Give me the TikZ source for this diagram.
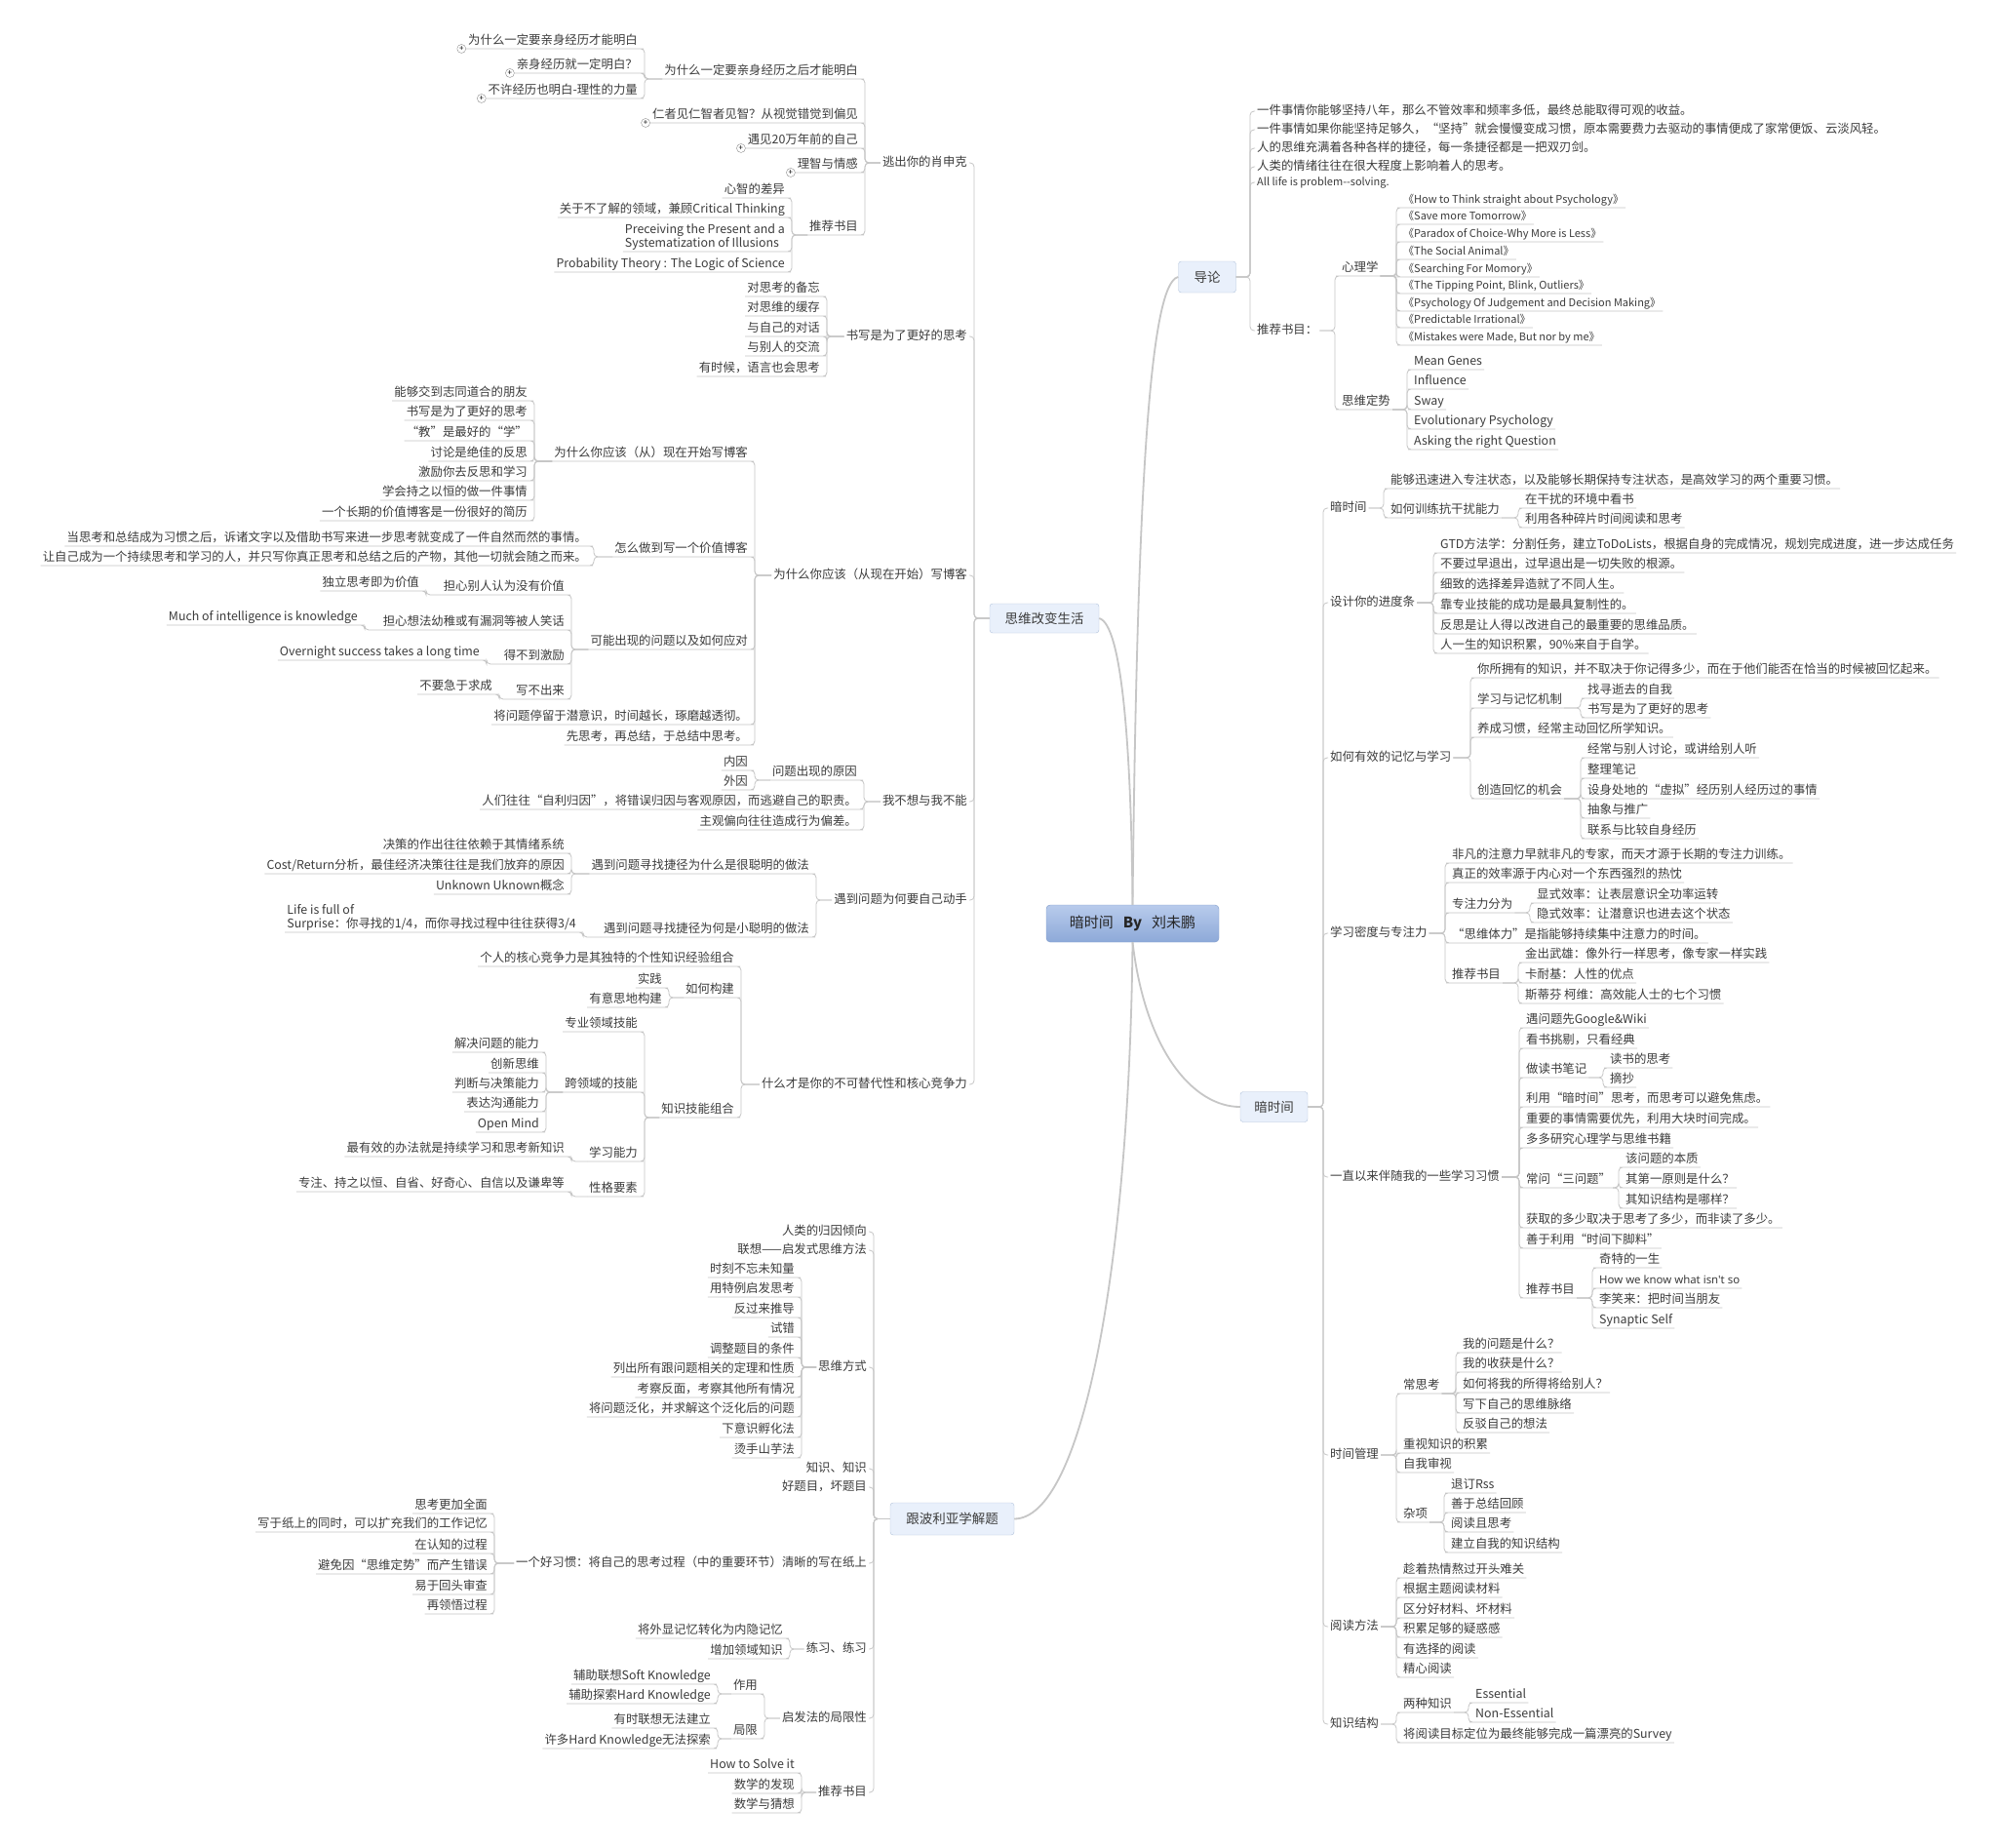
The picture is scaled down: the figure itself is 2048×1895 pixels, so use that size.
\documentclass[tikz,border=0pt]{standalone}
\usepackage{fontspec}
\setmainfont{Noto Sans CJK SC}
\newfontfamily\latinfont{Noto Sans}
\newcommand{\mapfont}{\fontsize{12.4}{14}\selectfont}
\newcommand{\bookfont}{\fontsize{11}{13}\selectfont}
\definecolor{txt}{HTML}{3C3C3C}
\definecolor{lnc}{HTML}{C6C6C6}
\definecolor{boxfill}{HTML}{E9F0FB}
\definecolor{boxline}{HTML}{B3C4DC}
\definecolor{roottop}{HTML}{B8CBEC}
\definecolor{rootbot}{HTML}{8DA9D8}
\definecolor{rootline}{HTML}{7F9BCA}

\begin{document}
\begin{tikzpicture}[x=1pt, y=-1pt, every node/.style={font=\mapfont, text=txt},
  lf/.style={anchor=east, inner xsep=2pt, inner ysep=1.5pt, text height=10pt, text depth=2.5pt},
  rt/.style={lf, anchor=west},
  bk/.style={rt, font=\bookfont},
  twoline/.style={align=left, text height=24pt, text depth=2.5pt},
  ln/.style={draw=lnc, line width=0.8pt, rounded corners=4pt},
  trunk/.style={draw=lnc, line width=1.8pt},
  topicbox/.style={draw=boxline, fill=boxfill, rounded corners=3pt, inner sep=0pt, font=\fontsize{13.5}{15}\selectfont},
  rootbox/.style={draw=rootline, top color=roottop, bottom color=rootbot, rounded corners=4pt, minimum width=177pt, minimum height=38pt, font=\fontsize{15}{17}\selectfont, text=black!85},
  expander/.style={circle, draw=black!45, fill=white, inner sep=0pt, minimum size=9pt, anchor=east, font=\fontsize{8}{8}\selectfont, text=black}]
\useasboundingbox (0,0) rectangle (2048,1895);
\fill[white] (0,0) rectangle (2048,1895);

\node[rootbox] (root) at (1161.5,947) {暗时间\hspace{10pt}\textbf{By}\hspace{10pt}刘未鹏};
\node[topicbox, minimum width=112pt, minimum height=30pt] (sw) at (1071,634) {思维改变生活};
\node[topicbox, minimum width=59pt, minimum height=32pt] (dl) at (1238,284) {导论};
\node[topicbox, minimum width=69pt, minimum height=31pt] (ash) at (1306.5,1135) {暗时间};
\node[topicbox, minimum width=127pt, minimum height=33pt] (bl) at (976.5,1557.5) {跟波利亚学解题};
\draw[trunk] (root.north) .. controls (1166,520) and (1178,290) .. (dl.west);
\draw[trunk] (root.north) .. controls (1160,760) and (1150,640) .. (sw.east);
\draw[trunk] (root.south) .. controls (1175,1080) and (1225,1135) .. (ash.west);
\draw[trunk] (root.south) .. controls (1158,1300) and (1110,1557) .. (bl.east);

\node[lf] (s1) at (994,167) {逃出你的肖申克};
\node[lf] (s2) at (994,345) {书写是为了更好的思考};
\node[lf] (s3) at (994,590) {为什么你应该（从现在开始）写博客};
\node[lf] (s4) at (994,822) {我不想与我不能};
\node[lf] (s5) at (994,923) {遇到问题为何要自己动手};
\node[lf] (s6) at (994,1112) {什么才是你的不可替代性和核心竞争力};
\foreach \ch in {s1,s2,s3,s4,s5,s6} \draw[ln] (\ch.east) -- ++(5,0) |- (sw.west);

\node[lf] (s1a) at (882,73) {为什么一定要亲身经历之后才能明白};
\node[lf] (s1b) at (882,118) {仁者见仁智者见智？从视觉错觉到偏见};
\node[lf] (s1c) at (882,144) {遇见20万年前的自己};
\node[lf] (s1d) at (882,169) {理智与情感};
\node[lf] (s1e) at (882,233) {推荐书目};
\node[lf] (s1a1) at (656,42) {为什么一定要亲身经历才能明白};
\node[lf] (s1a2) at (656,67) {亲身经历就一定明白？};
\node[lf] (s1a3) at (656,93) {不许经历也明白-理性的力量};
\node[lf] (s1e1) at (807,195) {心智的差异};
\node[lf] (s1e2) at (807,215) {关于不了解的领域，兼顾Critical Thinking};
\node[lf, twoline] (s1e3) at (807,243) {Preceiving the Present and a\\Systematization of Illusions};
\node[lf] (s1e4) at (807,271) {Probability Theory : The Logic of Science};
\foreach \ch in {s1a,s1b,s1c,s1d,s1e} \draw[ln] (\ch.south west) -- (\ch.south east) -- ++(5,0) |- (s1.west);
\foreach \ch in {s1a1,s1a2,s1a3} \draw[ln] (\ch.south west) -- (\ch.south east) -- ++(5,0) |- (s1a.south west);
\foreach \ch in {s1e1,s1e2,s1e3,s1e4} \draw[ln] (\ch.south west) -- (\ch.south east) -- ++(5,0) |- (s1e.south west);
\node[expander] (x1) at (s1a1.south west) {+};
\node[expander] (x2) at (s1a2.south west) {+};
\node[expander] (x3) at (s1a3.south west) {+};
\node[expander] (x4) at (s1b.south west) {+};
\node[expander] (x5) at (s1c.south west) {+};
\node[expander] (x6) at (s1d.south west) {+};

\node[lf] (s2a) at (843,296) {对思考的备忘};
\node[lf] (s2b) at (843,316) {对思维的缓存};
\node[lf] (s2c) at (843,337) {与自己的对话};
\node[lf] (s2d) at (843,357) {与别人的交流};
\node[lf] (s2e) at (843,378) {有时候，语言也会思考};
\foreach \ch in {s2a,s2b,s2c,s2d,s2e} \draw[ln] (\ch.south west) -- (\ch.south east) -- ++(5,0) |- (s2.west);

\node[lf] (s3a) at (769,465) {为什么你应该（从）现在开始写博客};
\node[lf] (s3b) at (769,563) {怎么做到写一个价值博客};
\node[lf] (s3c) at (769,658) {可能出现的问题以及如何应对};
\node[lf] (s3d) at (769,735) {将问题停留于潜意识，时间越长，琢磨越透彻。};
\node[lf] (s3e) at (769,756) {先思考，再总结，于总结中思考。};
\node[lf] (s3a1) at (543,403) {能够交到志同道合的朋友};
\node[lf] (s3a2) at (543,423) {书写是为了更好的思考};
\node[lf] (s3a3) at (543,444) {“教”是最好的“学”};
\node[lf] (s3a4) at (543,465) {讨论是绝佳的反思};
\node[lf] (s3a5) at (543,485) {激励你去反思和学习};
\node[lf] (s3a6) at (543,505) {学会持之以恒的做一件事情};
\node[lf] (s3a7) at (543,526) {一个长期的价值博客是一份很好的简历};
\node[lf] (s3b1) at (604,552) {当思考和总结成为习惯之后，诉诸文字以及借助书写来进一步思考就变成了一件自然而然的事情。};
\node[lf] (s3b2) at (604,572) {让自己成为一个持续思考和学习的人，并只写你真正思考和总结之后的产物，其他一切就会随之而来。};
\node[lf] (s3c1) at (581,602) {担心别人认为没有价值};
\node[lf] (s3c2) at (581,638) {担心想法幼稚或有漏洞等被人笑话};
\node[lf] (s3c3) at (581,673) {得不到激励};
\node[lf] (s3c4) at (581,709) {写不出来};
\node[lf] (s3c1a) at (432,598) {独立思考即为价值};
\node[lf] (s3c2a) at (369,633) {Much of intelligence is knowledge};
\node[lf] (s3c3a) at (494,669) {Overnight success takes a long time};
\node[lf] (s3c4a) at (507,704) {不要急于求成};
\foreach \ch in {s3a,s3b,s3c,s3d,s3e} \draw[ln] (\ch.south west) -- (\ch.south east) -- ++(5,0) |- (s3.west);
\foreach \ch in {s3a1,s3a2,s3a3,s3a4,s3a5,s3a6,s3a7} \draw[ln] (\ch.south west) -- (\ch.south east) -- ++(5,0) |- (s3a.south west);
\foreach \ch in {s3b1,s3b2} \draw[ln] (\ch.south west) -- (\ch.south east) -- ++(5,0) |- (s3b.south west);
\foreach \ch in {s3c1,s3c2,s3c3,s3c4} \draw[ln] (\ch.south west) -- (\ch.south east) -- ++(5,0) |- (s3c.south west);
\foreach \ch/\pa in {s3c1a/s3c1,s3c2a/s3c2,s3c3a/s3c3,s3c4a/s3c4} \draw[ln] (\ch.south west) -- (\ch.south east) -- ++(5,0) |- (\pa.south west);

\node[lf] (s4a) at (881,792) {问题出现的原因};
\node[lf] (s4b) at (881,822) {人们往往“自利归因”，将错误归因与客观原因，而逃避自己的职责。};
\node[lf] (s4c) at (881,843) {主观偏向往往造成行为偏差。};
\node[lf] (s4a1) at (769,782) {内因};
\node[lf] (s4a2) at (769,802) {外因};
\foreach \ch in {s4a,s4b,s4c} \draw[ln] (\ch.south west) -- (\ch.south east) -- ++(5,0) |- (s4.west);
\foreach \ch in {s4a1,s4a2} \draw[ln] (\ch.south west) -- (\ch.south east) -- ++(5,0) |- (s4a.south west);

\node[lf] (s5a) at (832,888) {遇到问题寻找捷径为什么是很聪明的做法};
\node[lf] (s5b) at (832,953) {遇到问题寻找捷径为何是小聪明的做法};
\node[lf] (s5a1) at (581,867) {决策的作出往往依赖于其情绪系统};
\node[lf] (s5a2) at (581,888) {Cost/Return分析，最佳经济决策往往是我们放弃的原因};
\node[lf] (s5a3) at (581,909) {Unknown Uknown概念};
\node[lf, twoline] (s5b1) at (593,941) {Life is full of\\Surprise：你寻找的1/4，而你寻找过程中往往获得3/4};
\foreach \ch in {s5a,s5b} \draw[ln] (\ch.south west) -- (\ch.south east) -- ++(5,0) |- (s5.west);
\foreach \ch in {s5a1,s5a2,s5a3} \draw[ln] (\ch.south west) -- (\ch.south east) -- ++(5,0) |- (s5a.south west);
\draw[ln] (s5b1.south west) -- (s5b1.south east) -- ++(5,0) |- (s5b.south west);

\node[lf] (s6a) at (755,983) {个人的核心竞争力是其独特的个性知识经验组合};
\node[lf] (s6b) at (755,1015) {如何构建};
\node[lf] (s6c) at (755,1138) {知识技能组合};
\node[lf] (s6b1) at (681,1005) {实践};
\node[lf] (s6b2) at (681,1025) {有意思地构建};
\node[lf] (s6c1) at (656,1050) {专业领域技能};
\node[lf] (s6c2) at (656,1112) {跨领域的技能};
\node[lf] (s6c3) at (656,1183) {学习能力};
\node[lf] (s6c4) at (656,1219) {性格要素};
\node[lf] (s6c2a) at (555,1071) {解决问题的能力};
\node[lf] (s6c2b) at (555,1092) {创新思维};
\node[lf] (s6c2c) at (555,1112) {判断与决策能力};
\node[lf] (s6c2d) at (555,1132) {表达沟通能力};
\node[lf] (s6c2e) at (555,1153) {Open Mind};
\node[lf] (s6c3a) at (581,1178) {最有效的办法就是持续学习和思考新知识};
\node[lf] (s6c4a) at (581,1214) {专注、持之以恒、自省、好奇心、自信以及谦卑等};
\foreach \ch in {s6a,s6b,s6c} \draw[ln] (\ch.south west) -- (\ch.south east) -- ++(5,0) |- (s6.west);
\foreach \ch in {s6b1,s6b2} \draw[ln] (\ch.south west) -- (\ch.south east) -- ++(5,0) |- (s6b.south west);
\foreach \ch in {s6c1,s6c2,s6c3,s6c4} \draw[ln] (\ch.south west) -- (\ch.south east) -- ++(5,0) |- (s6c.south west);
\foreach \ch in {s6c2a,s6c2b,s6c2c,s6c2d,s6c2e} \draw[ln] (\ch.south west) -- (\ch.south east) -- ++(5,0) |- (s6c2.south west);
\foreach \ch/\pa in {s6c3a/s6c3,s6c4a/s6c4} \draw[ln] (\ch.south west) -- (\ch.south east) -- ++(5,0) |- (\pa.south west);

\node[lf] (b1) at (891,1263) {人类的归因倾向};
\node[lf] (b2) at (891,1282) {联想——启发式思维方法};
\node[lf] (b3) at (891,1402) {思维方式};
\node[lf] (b4) at (891,1506) {知识、知识};
\node[lf] (b5) at (891,1525) {好题目，坏题目};
\node[lf] (b6) at (891,1603) {一个好习惯：将自己的思考过程（中的重要环节）清晰的写在纸上};
\node[lf] (b7) at (891,1691) {练习、练习};
\node[lf] (b8) at (891,1762) {启发法的局限性};
\node[lf] (b9) at (891,1838) {推荐书目};
\foreach \ch in {b1,b2,b3,b4,b5,b6,b7,b8,b9} \draw[ln] (\ch.east) -- ++(5,0) |- (bl.west);
\node[lf] (b3a) at (817,1302) {时刻不忘未知量};
\node[lf] (b3b) at (817,1322) {用特例启发思考};
\node[lf] (b3c) at (817,1343) {反过来推导};
\node[lf] (b3d) at (817,1363) {试错};
\node[lf] (b3e) at (817,1384) {调整题目的条件};
\node[lf] (b3f) at (817,1404) {列出所有跟问题相关的定理和性质};
\node[lf] (b3g) at (817,1425) {考察反面，考察其他所有情况};
\node[lf] (b3h) at (817,1445) {将问题泛化，并求解这个泛化后的问题};
\node[lf] (b3i) at (817,1466) {下意识孵化法};
\node[lf] (b3j) at (817,1487) {烫手山芋法};
\node[lf] (b6a) at (502,1544) {思考更加全面};
\node[lf] (b6b) at (502,1563) {写于纸上的同时，可以扩充我们的工作记忆};
\node[lf] (b6c) at (502,1585) {在认知的过程};
\node[lf] (b6d) at (502,1606) {避免因“思维定势”而产生错误};
\node[lf] (b6e) at (502,1627) {易于回头审查};
\node[lf] (b6f) at (502,1647) {再领悟过程};
\node[lf] (b7a) at (805,1672) {将外显记忆转化为内隐记忆};
\node[lf] (b7b) at (805,1693) {增加领域知识};
\node[lf] (b8a) at (779,1729) {作用};
\node[lf] (b8b) at (779,1775) {局限};
\node[lf] (b8a1) at (731,1719) {辅助联想Soft Knowledge};
\node[lf] (b8a2) at (731,1739) {辅助探索Hard Knowledge};
\node[lf] (b8b1) at (731,1764) {有时联想无法建立};
\node[lf] (b8b2) at (731,1785) {许多Hard Knowledge无法探索};
\node[lf] (b9a) at (817,1810) {How to Solve it};
\node[lf] (b9b) at (817,1831) {数学的发现};
\node[lf] (b9c) at (817,1851) {数学与猜想};
\foreach \ch in {b3a,b3b,b3c,b3d,b3e,b3f,b3g,b3h,b3i,b3j} \draw[ln] (\ch.south west) -- (\ch.south east) -- ++(5,0) |- (b3.west);
\foreach \ch in {b6a,b6b,b6c,b6d,b6e,b6f} \draw[ln] (\ch.south west) -- (\ch.south east) -- ++(5,0) |- (b6.west);
\foreach \ch in {b7a,b7b} \draw[ln] (\ch.south west) -- (\ch.south east) -- ++(5,0) |- (b7.west);
\foreach \ch in {b8a,b8b} \draw[ln] (\ch.south west) -- (\ch.south east) -- ++(5,0) |- (b8.west);
\foreach \ch in {b8a1,b8a2} \draw[ln] (\ch.south west) -- (\ch.south east) -- ++(5,0) |- (b8a.south west);
\foreach \ch in {b8b1,b8b2} \draw[ln] (\ch.south west) -- (\ch.south east) -- ++(5,0) |- (b8b.south west);
\foreach \ch in {b9a,b9b,b9c} \draw[ln] (\ch.south west) -- (\ch.south east) -- ++(5,0) |- (b9.west);

\node[rt] (d1) at (1287,114) {一件事情你能够坚持八年，那么不管效率和频率多低，最终总能取得可观的收益。};
\node[rt] (d2) at (1287,133) {一件事情如果你能坚持足够久，“坚持”就会慢慢变成习惯，原本需要费力去驱动的事情便成了家常便饭、云淡风轻。};
\node[rt] (d3) at (1287,152) {人的思维充满着各种各样的捷径，每一条捷径都是一把双刃剑。};
\node[rt] (d4) at (1287,171) {人类的情绪往往在很大程度上影响着人的思考。};
\node[bk] (d5) at (1287,187) {All life is problem-{}-solving.};
\node[rt] (d6) at (1287,339) {推荐书目：};
\foreach \ch in {d1,d2,d3,d4,d5,d6} \draw[ln] (\ch.west) -- ++(-5,0) |- (dl.east);
\node[rt] (d6a) at (1374,275) {心理学};
\node[rt] (d6b) at (1374,412) {思维定势};
\node[bk] (d6a1) at (1437,205) {《How to Think straight about Psychology》};
\node[bk] (d6a2) at (1437,222) {《Save more Tomorrow》};
\node[bk] (d6a3) at (1437,240) {《Paradox of Choice-Why More is Less》};
\node[bk] (d6a4) at (1437,258) {《The Social Animal》};
\node[bk] (d6a5) at (1437,276) {《Searching For Momory》};
\node[bk] (d6a6) at (1437,293) {《The Tipping Point, Blink, Outliers》};
\node[bk] (d6a7) at (1437,311) {《Psychology Of Judgement and Decision Making》};
\node[bk] (d6a8) at (1437,328) {《Predictable Irrational》};
\node[bk] (d6a9) at (1437,346) {《Mistakes were Made, But nor by me》};
\node[rt] (d6b1) at (1448,371) {Mean Genes};
\node[rt] (d6b2) at (1448,391) {Influence};
\node[rt] (d6b3) at (1448,412) {Sway};
\node[rt] (d6b4) at (1448,432) {Evolutionary Psychology};
\node[rt] (d6b5) at (1448,453) {Asking the right Question};
\foreach \ch in {d6a,d6b} \draw[ln] (\ch.south east) -- (\ch.south west) -- ++(-5,0) |- (d6.east);
\foreach \ch in {d6a1,d6a2,d6a3,d6a4,d6a5,d6a6,d6a7,d6a8,d6a9} \draw[ln] (\ch.south east) -- (\ch.south west) -- ++(-5,0) |- (d6a.south east);
\foreach \ch in {d6b1,d6b2,d6b3,d6b4,d6b5} \draw[ln] (\ch.south east) -- (\ch.south west) -- ++(-5,0) |- (d6b.south east);

\node[rt] (m1) at (1362,521) {暗时间};
\node[rt] (m2) at (1362,618) {设计你的进度条};
\node[rt] (m3) at (1362,777) {如何有效的记忆与学习};
\node[rt] (m4) at (1362,957) {学习密度与专注力};
\node[rt] (m5) at (1362,1207) {一直以来伴随我的一些学习习惯};
\node[rt] (m6) at (1362,1492) {时间管理};
\node[rt] (m7) at (1362,1668) {阅读方法};
\node[rt] (m8) at (1362,1768) {知识结构};
\foreach \ch in {m1,m2,m3,m4,m5,m6,m7,m8} \draw[ln] (\ch.west) -- ++(-5,0) |- (ash.east);

\node[rt] (m1a) at (1424,493) {能够迅速进入专注状态，以及能够长期保持专注状态，是高效学习的两个重要习惯。};
\node[rt] (m1b) at (1424,523) {如何训练抗干扰能力};
\node[rt] (m1b1) at (1562,513) {在干扰的环境中看书};
\node[rt] (m1b2) at (1562,533) {利用各种碎片时间阅读和思考};
\foreach \ch in {m1a,m1b} \draw[ln] (\ch.south east) -- (\ch.south west) -- ++(-5,0) |- (m1.east);
\foreach \ch in {m1b1,m1b2} \draw[ln] (\ch.south east) -- (\ch.south west) -- ++(-5,0) |- (m1b.south east);

\node[rt] (m2a) at (1475,559) {GTD方法学：分割任务，建立ToDoLists，根据自身的完成情况，规划完成进度，进一步达成任务};
\node[rt] (m2b) at (1475,579) {不要过早退出，过早退出是一切失败的根源。};
\node[rt] (m2c) at (1475,600) {细致的选择差异造就了不同人生。};
\node[rt] (m2d) at (1475,621) {靠专业技能的成功是最具复制性的。};
\node[rt] (m2e) at (1475,642) {反思是让人得以改进自己的最重要的思维品质。};
\node[rt] (m2f) at (1475,662) {人一生的知识积累，90\%来自于自学。};
\foreach \ch in {m2a,m2b,m2c,m2d,m2e,m2f} \draw[ln] (\ch.south east) -- (\ch.south west) -- ++(-5,0) |- (m2.east);

\node[rt] (m3a) at (1513,687) {你所拥有的知识，并不取决于你记得多少，而在于他们能否在恰当的时候被回忆起来。};
\node[rt] (m3b) at (1513,718) {学习与记忆机制};
\node[rt] (m3c) at (1513,748) {养成习惯，经常主动回忆所学知识。};
\node[rt] (m3d) at (1513,811) {创造回忆的机会};
\node[rt] (m3b1) at (1626,708) {找寻逝去的自我};
\node[rt] (m3b2) at (1626,728) {书写是为了更好的思考};
\node[rt] (m3d1) at (1626,769) {经常与别人讨论，或讲给别人听};
\node[rt] (m3d2) at (1626,790) {整理笔记};
\node[rt] (m3d3) at (1626,811) {设身处地的“虚拟”经历别人经历过的事情};
\node[rt] (m3d4) at (1626,831) {抽象与推广};
\node[rt] (m3d5) at (1626,852) {联系与比较自身经历};
\foreach \ch in {m3a,m3b,m3c,m3d} \draw[ln] (\ch.south east) -- (\ch.south west) -- ++(-5,0) |- (m3.east);
\foreach \ch in {m3b1,m3b2} \draw[ln] (\ch.south east) -- (\ch.south west) -- ++(-5,0) |- (m3b.south east);
\foreach \ch in {m3d1,m3d2,m3d3,m3d4,m3d5} \draw[ln] (\ch.south east) -- (\ch.south west) -- ++(-5,0) |- (m3d.south east);

\node[rt] (m4a) at (1487,877) {非凡的注意力早就非凡的专家，而天才源于长期的专注力训练。};
\node[rt] (m4b) at (1487,897) {真正的效率源于内心对一个东西强烈的热忱};
\node[rt] (m4c) at (1487,928) {专注力分为};
\node[rt] (m4d) at (1487,959) {“思维体力”是指能够持续集中注意力的时间。};
\node[rt] (m4e) at (1487,1000) {推荐书目};
\node[rt] (m4c1) at (1574,918) {显式效率：让表层意识全功率运转};
\node[rt] (m4c2) at (1574,938) {隐式效率：让潜意识也进去这个状态};
\node[rt] (m4e1) at (1562,979) {金出武雄：像外行一样思考，像专家一样实践};
\node[rt] (m4e2) at (1562,1000) {卡耐基：人性的优点};
\node[rt] (m4e3) at (1562,1021) {斯蒂芬 柯维：高效能人士的七个习惯};
\foreach \ch in {m4a,m4b,m4c,m4d,m4e} \draw[ln] (\ch.south east) -- (\ch.south west) -- ++(-5,0) |- (m4.east);
\foreach \ch in {m4c1,m4c2} \draw[ln] (\ch.south east) -- (\ch.south west) -- ++(-5,0) |- (m4c.south east);
\foreach \ch in {m4e1,m4e2,m4e3} \draw[ln] (\ch.south east) -- (\ch.south west) -- ++(-5,0) |- (m4e.south east);

\node[rt] (m5a) at (1563,1046) {遇问题先Google\&Wiki};
\node[rt] (m5b) at (1563,1067) {看书挑剔，只看经典};
\node[rt] (m5c) at (1563,1097) {做读书笔记};
\node[rt] (m5d) at (1563,1127) {利用“暗时间”思考，而思考可以避免焦虑。};
\node[rt] (m5e) at (1563,1148) {重要的事情需要优先，利用大块时间完成。};
\node[rt] (m5f) at (1563,1169) {多多研究心理学与思维书籍};
\node[rt] (m5g) at (1563,1210) {常问“三问题”};
\node[rt] (m5h) at (1563,1251) {获取的多少取决于思考了多少，而非读了多少。};
\node[rt] (m5i) at (1563,1272) {善于利用“时间下脚料”};
\node[rt] (m5j) at (1563,1323) {推荐书目};
\node[rt] (m5c1) at (1649,1087) {读书的思考};
\node[rt] (m5c2) at (1649,1107) {摘抄};
\node[rt] (m5g1) at (1665,1189) {该问题的本质};
\node[rt] (m5g2) at (1665,1210) {其第一原则是什么？};
\node[rt] (m5g3) at (1665,1231) {其知识结构是哪样？};
\node[rt] (m5j1) at (1638,1292) {奇特的一生};
\node[rt, font=\latinfont\fontsize{11.4}{14}\selectfont] (m5j2) at (1638,1313) {How we know what isn't so};
\node[rt] (m5j3) at (1638,1333) {李笑来：把时间当朋友};
\node[rt] (m5j4) at (1638,1354) {Synaptic Self};
\foreach \ch in {m5a,m5b,m5c,m5d,m5e,m5f,m5g,m5h,m5i,m5j} \draw[ln] (\ch.south east) -- (\ch.south west) -- ++(-5,0) |- (m5.east);
\foreach \ch in {m5c1,m5c2} \draw[ln] (\ch.south east) -- (\ch.south west) -- ++(-5,0) |- (m5c.south east);
\foreach \ch in {m5g1,m5g2,m5g3} \draw[ln] (\ch.south east) -- (\ch.south west) -- ++(-5,0) |- (m5g.south east);
\foreach \ch in {m5j1,m5j2,m5j3,m5j4} \draw[ln] (\ch.south east) -- (\ch.south west) -- ++(-5,0) |- (m5j.south east);

\node[rt] (m6a) at (1437,1421) {常思考};
\node[rt] (m6b) at (1437,1482) {重视知识的积累};
\node[rt] (m6c) at (1437,1502) {自我审视};
\node[rt] (m6d) at (1437,1553) {杂项};
\node[rt] (m6a1) at (1498,1379) {我的问题是什么？};
\node[rt] (m6a2) at (1498,1399) {我的收获是什么？};
\node[rt] (m6a3) at (1498,1420) {如何将我的所得将给别人？};
\node[rt] (m6a4) at (1498,1441) {写下自己的思维脉络};
\node[rt] (m6a5) at (1498,1461) {反驳自己的想法};
\node[rt] (m6d1) at (1486,1523) {退订Rss};
\node[rt] (m6d2) at (1486,1543) {善于总结回顾};
\node[rt] (m6d3) at (1486,1563) {阅读且思考};
\node[rt] (m6d4) at (1486,1584) {建立自我的知识结构};
\foreach \ch in {m6a,m6b,m6c,m6d} \draw[ln] (\ch.south east) -- (\ch.south west) -- ++(-5,0) |- (m6.east);
\foreach \ch in {m6a1,m6a2,m6a3,m6a4,m6a5} \draw[ln] (\ch.south east) -- (\ch.south west) -- ++(-5,0) |- (m6a.south east);
\foreach \ch in {m6d1,m6d2,m6d3,m6d4} \draw[ln] (\ch.south east) -- (\ch.south west) -- ++(-5,0) |- (m6d.south east);

\node[rt] (m7a) at (1437,1610) {趁着热情熬过开头难关};
\node[rt] (m7b) at (1437,1630) {根据主题阅读材料};
\node[rt] (m7c) at (1437,1651) {区分好材料、坏材料};
\node[rt] (m7d) at (1437,1671) {积累足够的疑惑感};
\node[rt] (m7e) at (1437,1692) {有选择的阅读};
\node[rt] (m7f) at (1437,1712) {精心阅读};
\foreach \ch in {m7a,m7b,m7c,m7d,m7e,m7f} \draw[ln] (\ch.south east) -- (\ch.south west) -- ++(-5,0) |- (m7.east);

\node[rt] (m8a) at (1437,1748) {两种知识};
\node[rt] (m8b) at (1437,1779) {将阅读目标定位为最终能够完成一篇漂亮的Survey};
\node[rt] (m8a1) at (1511,1738) {Essential};
\node[rt] (m8a2) at (1511,1758) {Non-Essential};
\foreach \ch in {m8a,m8b} \draw[ln] (\ch.south east) -- (\ch.south west) -- ++(-5,0) |- (m8.east);
\foreach \ch in {m8a1,m8a2} \draw[ln] (\ch.south east) -- (\ch.south west) -- ++(-5,0) |- (m8a.south east);
\end{tikzpicture}
\end{document}
